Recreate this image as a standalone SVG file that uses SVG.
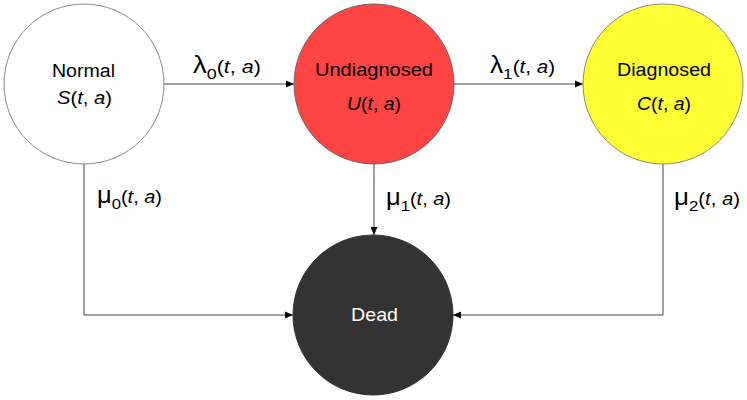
<svg xmlns="http://www.w3.org/2000/svg" width="747" height="400" viewBox="0 0 747 400">
<style>
  .t { font-family: "Liberation Sans", Arial, sans-serif; font-size: 18px; fill: #000; }
  .i { font-style: italic; }
  .g { font-size: 23px; }
  .sub { font-size: 15px; }
  .conn { fill: none; stroke: #444; stroke-width: 1; }
  .node { stroke-width: 1; }
</style>
<defs>
  <marker id="arr" markerUnits="userSpaceOnUse" markerWidth="10" markerHeight="8" refX="8" refY="4" orient="auto">
    <path d="M0,0.5 L8,4 L0,7.5 Z" fill="#000"/>
  </marker>
</defs>
<rect width="747" height="400" fill="#fff"/>
<g id="connectors">
  <line class="conn" x1="164" y1="84" x2="294" y2="84" marker-end="url(#arr)"/>
  <line class="conn" x1="454" y1="84" x2="583" y2="84" marker-end="url(#arr)"/>
  <polyline class="conn" points="84,164 84,315 293,315" marker-end="url(#arr)"/>
  <line class="conn" x1="374" y1="164" x2="374" y2="235" marker-end="url(#arr)"/>
  <polyline class="conn" points="663,164 663,315 453,315" marker-end="url(#arr)"/>
  <text class="t" x="193" y="73" textLength="68" lengthAdjust="spacingAndGlyphs"><tspan class="g">λ</tspan><tspan class="sub" dy="6">0</tspan><tspan dy="-6">(</tspan><tspan class="i">t</tspan>, <tspan class="i">a</tspan>)</text>
  <text class="t" x="490" y="73" textLength="65" lengthAdjust="spacingAndGlyphs"><tspan class="g">λ</tspan><tspan class="sub" dy="6">1</tspan><tspan dy="-6">(</tspan><tspan class="i">t</tspan>, <tspan class="i">a</tspan>)</text>
  <text class="t" x="97" y="203" textLength="65" lengthAdjust="spacingAndGlyphs"><tspan class="g">μ</tspan><tspan class="sub" dy="6">0</tspan><tspan dy="-6">(</tspan><tspan class="i">t</tspan>, <tspan class="i">a</tspan>)</text>
  <text class="t" x="386" y="205" textLength="65" lengthAdjust="spacingAndGlyphs"><tspan class="g">μ</tspan><tspan class="sub" dy="6">1</tspan><tspan dy="-6">(</tspan><tspan class="i">t</tspan>, <tspan class="i">a</tspan>)</text>
  <text class="t" x="674" y="205" textLength="66" lengthAdjust="spacingAndGlyphs"><tspan class="g">μ</tspan><tspan class="sub" dy="6">2</tspan><tspan dy="-6">(</tspan><tspan class="i">t</tspan>, <tspan class="i">a</tspan>)</text>
</g>
<g id="normal">
  <circle class="node" cx="84" cy="84" r="80" fill="#fff" stroke="#888"/>
  <text class="t" x="52" y="77" textLength="63" lengthAdjust="spacingAndGlyphs">Normal</text>
  <text class="t" x="57" y="104" textLength="55" lengthAdjust="spacingAndGlyphs"><tspan class="i">S</tspan>(<tspan class="i">t</tspan>, <tspan class="i">a</tspan>)</text>
</g>
<g id="undiagnosed">
  <circle class="node" cx="374" cy="84" r="80" fill="#ff4444" stroke="#666"/>
  <text class="t" x="315" y="76" textLength="118" lengthAdjust="spacingAndGlyphs">Undiagnosed</text>
  <text class="t" x="347" y="110" textLength="54" lengthAdjust="spacingAndGlyphs"><tspan class="i">U</tspan>(<tspan class="i">t</tspan>, <tspan class="i">a</tspan>)</text>
</g>
<g id="diagnosed">
  <circle class="node" cx="663" cy="84" r="80" fill="#ffff33" stroke="#888"/>
  <text class="t" x="617" y="76" textLength="94" lengthAdjust="spacingAndGlyphs">Diagnosed</text>
  <text class="t" x="637" y="110" textLength="54" lengthAdjust="spacingAndGlyphs"><tspan class="i">C</tspan>(<tspan class="i">t</tspan>, <tspan class="i">a</tspan>)</text>
</g>
<g id="dead">
  <circle class="node" cx="373" cy="315" r="80" fill="#333" stroke="#333"/>
  <text class="t" x="351" y="321" textLength="47" lengthAdjust="spacingAndGlyphs" style="fill:#fff">Dead</text>
</g>
</svg>
